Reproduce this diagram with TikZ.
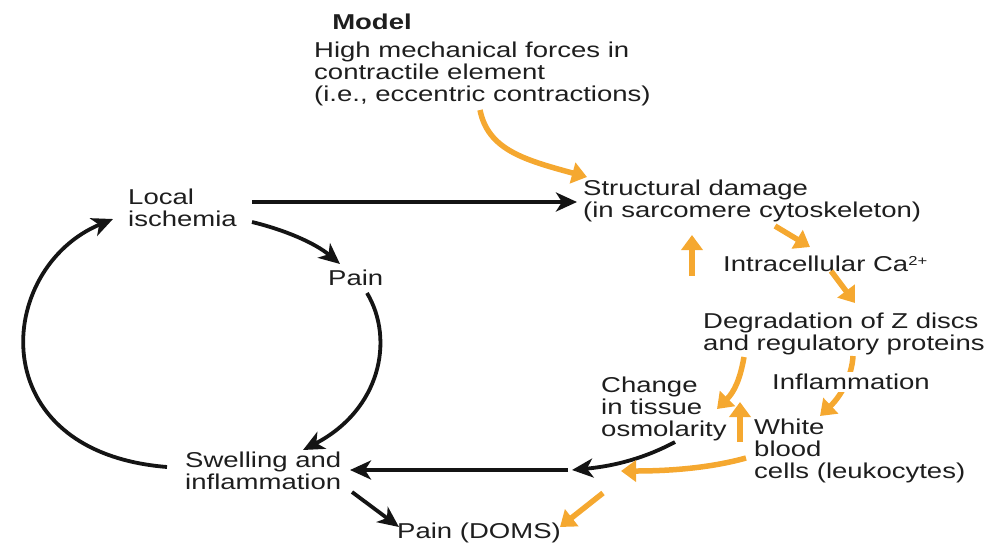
\documentclass[tikz,border=0pt]{standalone}
\usepackage{fontspec}
\setmainfont{Liberation Sans}[FakeStretch=1.28]
\usetikzlibrary{arrows.meta}
\definecolor{orng}{RGB}{245,168,48}
\definecolor{txt}{RGB}{30,30,30}
\tikzset{
  lbl/.style={anchor=west,align=left,inner sep=0pt,text=txt,font=\fontsize{21.5}{22}\selectfont},
  blk/.style={draw=black!92,line width=3.8pt,-{Stealth[length=21pt,width=19pt,inset=6pt]}},
  org/.style={draw=orng,line width=5.5pt,-{Triangle[length=15pt,width=21pt]}}
}
\begin{document}
\begin{tikzpicture}[x=1pt,y=-1pt]
\useasboundingbox (0,0) rectangle (986,550);
% text nodes
\node[lbl,anchor=center,font=\bfseries\fontsize{21.5}{22}\selectfont] (model) at (372,22) {Model};
\node[lbl] (high) at (314,74) {High mechanical forces in\\contractile element\\(i.e., eccentric contractions)};
\node[lbl] (struct) at (583,201) {Structural damage\\(in sarcomere cytoskeleton)};
\node[lbl] (ca) at (723,264) {Intracellular Ca\raisebox{0.55ex}{\fontsize{13}{13}\selectfont 2+}};
\node[lbl] (deg) at (703,334) {Degradation of Z discs\\and regulatory proteins};
\node[lbl] (osm) at (601,409) {Change\\in tissue\\osmolarity};
\node[lbl] (wbc) at (754,451) {White\\blood\\cells (leukocytes)};
\node[lbl] (local) at (128,208) {Local\\ischemia};
\node[lbl] (pain) at (328,278) {Pain};
\node[lbl] (swell) at (185,471) {Swelling and\\inflammation};
\node[lbl] (doms) at (397,533) {Pain (DOMS)};
% connector end points
\coordinate (h1) at (480,110); \coordinate (h2) at (587,177);
\coordinate (l1) at (252,202); \coordinate (l2) at (577,202);
\coordinate (l3) at (252,222); \coordinate (p1) at (340,264);
\coordinate (p2) at (367,293); \coordinate (s1) at (303,450);
\coordinate (s2) at (167,467); \coordinate (l4) at (113,219);
\coordinate (m1) at (568,470); \coordinate (s3) at (350,470);
\coordinate (o1) at (675,442); \coordinate (m2) at (572,470);
\coordinate (s4) at (352,492); \coordinate (d1) at (399,527);
\coordinate (c1) at (775,226); \coordinate (c2) at (810,247);
\coordinate (u1) at (692,276); \coordinate (u2) at (692,235);
\coordinate (c3) at (831,271); \coordinate (c4) at (855,303);
\coordinate (g1) at (744,357); \coordinate (g2) at (717,409);
\coordinate (g3) at (853,356); \coordinate (w1) at (820,416);
\coordinate (w2) at (740,442); \coordinate (w3) at (740,402);
\coordinate (w4) at (746,458); \coordinate (m3) at (621,471);
\coordinate (m4) at (603,493); \coordinate (d2) at (560,527);
% black connectors
\draw[blk] (l1) -- (l2);
\draw[blk] (l3) .. controls (285,230) and (315,243) .. (p1);
\draw[blk] (p2) .. controls (395,340) and (380,410) .. (s1);
\draw[blk] (s2) .. controls (-20,452) and (-5,268) .. (l4);
\draw[blk] (m1) -- (s3);
\draw[blk] (o1) .. controls (645,458) and (615,466) .. (m2);
\draw[blk] (s4) -- (d1);
% orange connectors
\draw[org] (h1) .. controls (488,150) and (525,160) .. (h2);
\draw[org] (c1) -- (c2);
\draw[org] (u1) -- (u2);
\draw[org] (c3) -- (c4);
\draw[org] (g1) .. controls (740,380) and (734,392) .. (g2);
\draw[org] (g3) .. controls (852,375) and (842,395) .. (w1);
\draw[org] (w2) -- (w3);
\draw[org] (w4) .. controls (710,468) and (670,471) .. (m3);
\draw[org] (m4) -- (d2);
% inflammation label drawn over its connector
\node[lbl,fill=white,inner ysep=2pt,inner xsep=1pt] (infl) at (771,382) {Inflammation};
\end{tikzpicture}
\end{document}
